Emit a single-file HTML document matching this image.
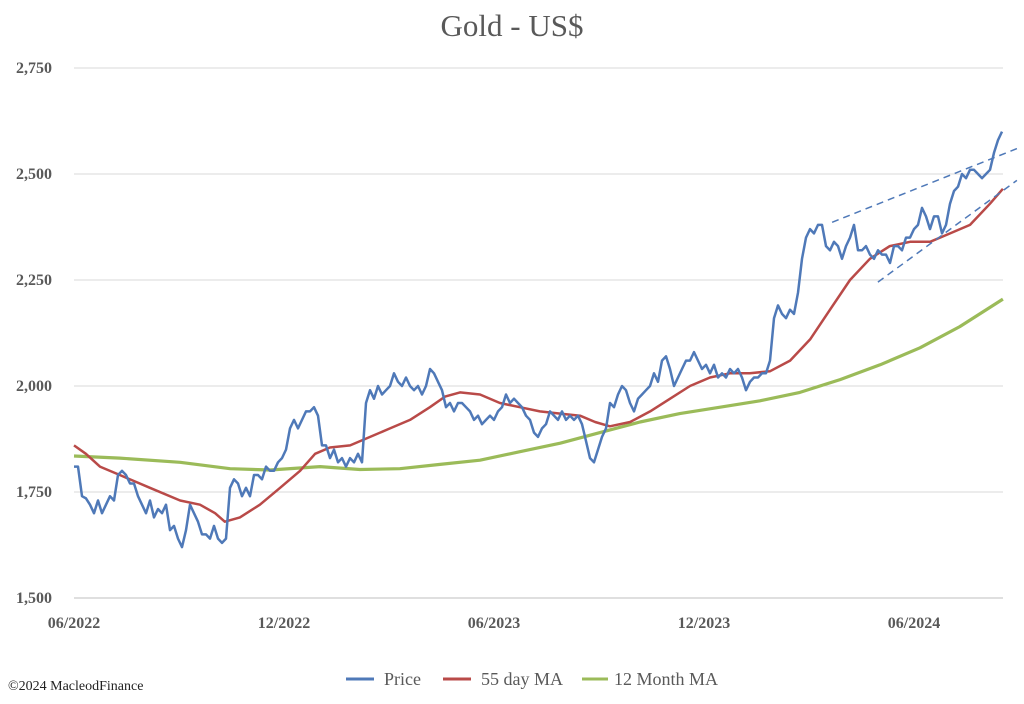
<!DOCTYPE html>
<html><head><meta charset="utf-8"><style>
body{margin:0;background:#fff;}
svg text{font-family:"Liberation Serif",serif;}
</style></head><body>
<svg id="chart" width="1024" height="699" viewBox="0 0 1024 699" xmlns="http://www.w3.org/2000/svg">
<text x="512" y="36" text-anchor="middle" font-size="31" fill="#595959">Gold - US$</text>
<g id="grid"></g>
<g id="yticks"></g>
<g id="xticks"></g>
<g id="series"></g>
<text x="8" y="690" font-size="14" fill="#222">©2024 MacleodFinance</text>
<g font-size="18" fill="#595959">
<g><line x1="346" y1="679" x2="374" y2="679" stroke="#4f79b8" stroke-width="3"/><text x="384" y="685" fill="#595959">Price</text></g>
<g><line x1="443" y1="679" x2="471" y2="679" stroke="#b94a48" stroke-width="3"/><text x="481" y="685" fill="#595959">55 day MA</text></g>
<g><line x1="582" y1="679" x2="608" y2="679" stroke="#9bbb59" stroke-width="3"/><text x="614" y="685" fill="#595959">12 Month MA</text></g>
</g>
</svg>
<script>
const yTicks=[1500,1750,2000,2250,2500,2750];
const yTickLabels=["1,500","1,750","2,000","2,250","2,500","2,750"];
const xTickMonths=[0,6,12,18,24];
const xTickLabels=["06/2022","12/2022","06/2023","12/2023","06/2024"];
const priceValues=[1810,1810,1740,1735,1720,1700,1730,1700,1720,1740,1730,1790,1800,1790,1770,1770,1740,1720,1700,1730,1690,1710,1700,1720,1660,1670,1640,1620,1660,1720,1700,1680,1650,1650,1640,1670,1640,1630,1640,1760,1780,1770,1740,1760,1740,1790,1790,1780,1810,1800,1800,1820,1830,1850,1900,1920,1900,1920,1940,1940,1950,1930,1860,1860,1830,1850,1820,1830,1810,1830,1820,1840,1820,1960,1990,1970,2000,1980,1990,2000,2030,2010,2000,2020,2000,1990,2000,1980,2000,2040,2030,2010,1990,1950,1960,1940,1960,1960,1950,1940,1920,1930,1910,1920,1930,1920,1940,1950,1980,1960,1970,1960,1950,1930,1920,1890,1880,1900,1910,1940,1930,1920,1940,1920,1930,1920,1930,1910,1870,1830,1820,1850,1880,1900,1960,1950,1980,2000,1990,1960,1940,1970,1980,1990,2000,2030,2010,2060,2070,2040,2000,2020,2040,2060,2060,2080,2060,2040,2050,2030,2050,2020,2030,2020,2040,2030,2040,2020,1990,2010,2020,2020,2030,2030,2060,2160,2190,2170,2160,2180,2170,2220,2300,2350,2370,2360,2380,2380,2330,2320,2340,2330,2300,2330,2350,2380,2320,2320,2330,2310,2300,2320,2310,2310,2290,2330,2330,2320,2350,2350,2370,2380,2420,2400,2370,2400,2400,2360,2380,2430,2460,2470,2500,2490,2510,2510,2500,2490,2500,2510,2550,2580,2600];
const ma55Months=[0,0.34,0.74,1.31,2.17,3.03,3.6,4.03,4.31,4.74,5.31,5.89,6.46,6.89,7.31,7.89,8.46,9.03,9.6,10.17,10.6,11.03,11.6,12.17,12.74,13.31,13.89,14.46,14.89,15.31,15.89,16.46,17.03,17.6,18.17,18.74,19.31,19.89,20.46,21.03,21.6,22.17,22.74,23.31,23.89,24.46,25.03,25.6,26.17,26.54];
const ma55Values=[1860,1840,1810,1790,1760,1730,1720,1700,1680,1690,1720,1760,1800,1840,1855,1860,1880,1900,1920,1950,1975,1985,1980,1960,1950,1940,1935,1930,1915,1905,1915,1940,1970,2000,2020,2030,2030,2035,2060,2110,2180,2250,2300,2330,2340,2340,2360,2380,2430,2465];
const ma12Months=[0,1.31,3.03,4.46,5.6,7.03,8.17,9.31,10.46,11.6,12.74,13.89,15.03,16.17,17.31,18.46,19.6,20.74,21.89,23.03,24.17,25.31,26.54];
const ma12Values=[1835,1830,1820,1805,1802,1810,1803,1805,1815,1825,1845,1865,1890,1915,1935,1950,1965,1985,2015,2050,2090,2140,2205];
const trendUpperMonths=[21.66,26.94];
const trendUpperValues=[2386,2560];
const trendLowerMonths=[22.97,26.94];
const trendLowerValues=[2245,2485];

const NS="http://www.w3.org/2000/svg";
const X0=74,PXM=35,Y0=598,PXV=106/250;
const xs=m=>X0+m*PXM;
const ys=v=>Y0-(v-1500)*PXV;
const grid=document.getElementById('grid'),yt=document.getElementById('yticks'),xt=document.getElementById('xticks'),ser=document.getElementById('series');
yTicks.forEach((v,i)=>{
 const l=document.createElementNS(NS,'line');
 
 
 l.setAttribute('x1',74);l.setAttribute('x2',1003);l.setAttribute('y1',ys(v));l.setAttribute('y2',ys(v));
 l.setAttribute('stroke',i===0?'#bfbfbf':'#d9d9d9');l.setAttribute('stroke-width',1);
 grid.appendChild(l);
 const t=document.createElementNS(NS,'text');
 
 
 t.setAttribute('x',52);t.setAttribute('y',ys(v)+5);t.setAttribute('text-anchor','end');
 t.setAttribute('font-size','16');t.setAttribute('font-weight','bold');t.setAttribute('fill','#595959');
 t.textContent=yTickLabels[i];yt.appendChild(t);
});
xTickMonths.forEach((m,i)=>{
 const t=document.createElementNS(NS,'text');
 
 
 t.setAttribute('x',xs(m));t.setAttribute('y',628);t.setAttribute('text-anchor','middle');
 t.setAttribute('font-size','16');t.setAttribute('font-weight','bold');t.setAttribute('fill','#595959');
 t.textContent=xTickLabels[i];xt.appendChild(t);
});
function line(months,vals,color,w,name,dash){
 const p=document.createElementNS(NS,'polyline');
 
 
 p.setAttribute('points',vals.map((v,i)=>xs(months[i]).toFixed(1)+','+ys(v).toFixed(1)).join(' '));
 p.setAttribute('fill','none');p.setAttribute('stroke',color);p.setAttribute('stroke-width',w);
 p.setAttribute('stroke-linejoin','round');
 if(dash)p.setAttribute('stroke-dasharray',dash);
 ser.appendChild(p);
}
const priceMonths=priceValues.map((v,i)=>i*4/35);
line(ma12Months,ma12Values,'#9bbb59',3.2,'12-month-ma-line');
line(ma55Months,ma55Values,'#b94a48',2.5,'55-day-ma-line');
line(priceMonths,priceValues,'#4f79b8',2.5,'price-line');
line(trendUpperMonths,trendUpperValues,'#4f79b8',1.5,'upper-trendline','7,5');
line(trendLowerMonths,trendLowerValues,'#4f79b8',1.5,'lower-trendline','7,5');
</script>
</body></html>
